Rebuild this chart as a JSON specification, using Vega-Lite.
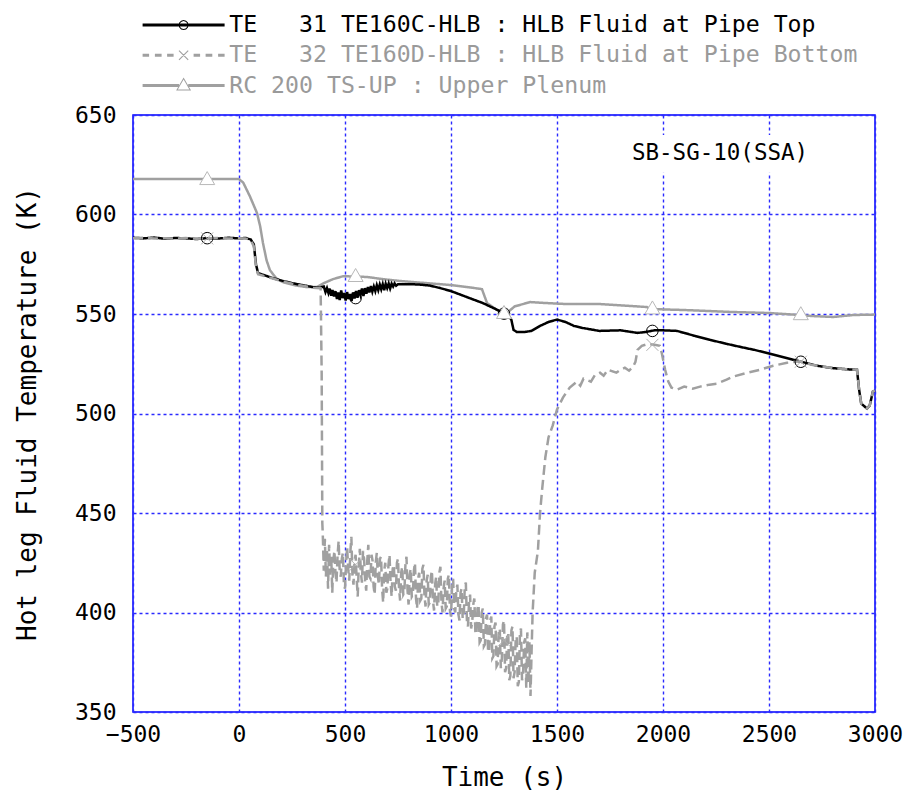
{
  "$schema": "https://vega.github.io/schema/vega-lite/v6.json",
  "width": 742,
  "height": 597,
  "autosize": {"type": "none"},
  "padding": {"left": 133, "top": 115, "right": 29, "bottom": 84},
  "background": "white",
  "config": {
    "font": "DejaVu Sans Mono",
    "view": {"stroke": "#0000ff", "strokeWidth": 1.5},
    "axis": {
      "grid": true, "gridColor": "#2a2aff", "gridDash": [3, 3], "gridWidth": 1.4, "gridOpacity": 1,
      "domain": false, "ticks": false, "labelFlush": false, "labelOverlap": false,
      "labelFont": "DejaVu Sans Mono", "labelFontSize": 23, "labelColor": "#000000",
      "titleFont": "DejaVu Sans Mono", "titleFontSize": 26, "titleFontWeight": "normal", "titleColor": "#000000"
    }
  },
  "datasets": {
    "lines": [
      {"s":"top","t":-500,"v":588.3},{"s":"top","t":-450,"v":588.0},{"s":"top","t":-400,"v":588.4},{"s":"top","t":-350,"v":587.8},{"s":"top","t":-300,"v":588.2},{"s":"top","t":-250,"v":588.0},{"s":"top","t":-200,"v":587.7},{"s":"top","t":-150,"v":588.1},{"s":"top","t":-100,"v":587.9},{"s":"top","t":-50,"v":588.3},{"s":"top","t":0,"v":588.0},{"s":"top","t":30,"v":588.2},{"s":"top","t":55,"v":587.5},{"s":"top","t":70,"v":585},{"s":"top","t":80,"v":575},{"s":"top","t":90,"v":570.5},{"s":"top","t":120,"v":569.5},{"s":"top","t":160,"v":568},{"s":"top","t":200,"v":566.8},{"s":"top","t":250,"v":565.5},{"s":"top","t":300,"v":564.5},{"s":"top","t":350,"v":563.5},{"s":"top","t":380,"v":563.2},
      {"s":"top","t":400,"v":563.8},{"s":"top","t":408,"v":561},{"s":"top","t":415,"v":563},{"s":"top","t":422,"v":560.5},{"s":"top","t":428,"v":562.8},{"s":"top","t":435,"v":559.2},{"s":"top","t":441,"v":562},{"s":"top","t":448,"v":558.8},{"s":"top","t":455,"v":561.5},{"s":"top","t":462,"v":557.5},{"s":"top","t":468,"v":560.8},{"s":"top","t":475,"v":557},{"s":"top","t":482,"v":561.8},{"s":"top","t":489,"v":558},{"s":"top","t":496,"v":560.5},{"s":"top","t":503,"v":556.8},{"s":"top","t":510,"v":561},{"s":"top","t":517,"v":557.5},{"s":"top","t":524,"v":560},{"s":"top","t":531,"v":556.5},{"s":"top","t":538,"v":560.8},{"s":"top","t":545,"v":557.8},{"s":"top","t":552,"v":561.5},{"s":"top","t":559,"v":558.2},{"s":"top","t":566,"v":562},{"s":"top","t":573,"v":559.5},{"s":"top","t":580,"v":562.8},{"s":"top","t":587,"v":559},{"s":"top","t":594,"v":563},{"s":"top","t":601,"v":560.2},{"s":"top","t":608,"v":563.5},{"s":"top","t":615,"v":560.8},{"s":"top","t":622,"v":564},{"s":"top","t":629,"v":561.2},{"s":"top","t":636,"v":563.8},{"s":"top","t":643,"v":561.5},{"s":"top","t":650,"v":564.5},{"s":"top","t":657,"v":562},{"s":"top","t":664,"v":564.8},{"s":"top","t":671,"v":562.4},{"s":"top","t":678,"v":565},{"s":"top","t":685,"v":562},{"s":"top","t":692,"v":565.2},{"s":"top","t":699,"v":563},{"s":"top","t":706,"v":565.3},{"s":"top","t":713,"v":562.8},{"s":"top","t":720,"v":565.2},{"s":"top","t":727,"v":563.8},{"s":"top","t":734,"v":565.4},{"s":"top","t":741,"v":564.2},{"s":"top","t":750,"v":565},
      {"s":"top","t":800,"v":565},{"s":"top","t":850,"v":564.8},{"s":"top","t":900,"v":564.3},{"s":"top","t":950,"v":563},{"s":"top","t":1000,"v":561.5},{"s":"top","t":1050,"v":559.5},{"s":"top","t":1100,"v":557.5},{"s":"top","t":1150,"v":555.5},{"s":"top","t":1200,"v":553},{"s":"top","t":1240,"v":551},{"s":"top","t":1270,"v":549.5},{"s":"top","t":1285,"v":547},{"s":"top","t":1295,"v":542},{"s":"top","t":1310,"v":541},{"s":"top","t":1350,"v":541},{"s":"top","t":1380,"v":541.5},{"s":"top","t":1420,"v":544},{"s":"top","t":1460,"v":546},{"s":"top","t":1500,"v":547.2},{"s":"top","t":1540,"v":546},{"s":"top","t":1580,"v":544},{"s":"top","t":1620,"v":543},{"s":"top","t":1700,"v":541.5},{"s":"top","t":1800,"v":541.8},{"s":"top","t":1880,"v":540.5},{"s":"top","t":1920,"v":541},{"s":"top","t":1960,"v":541.8},{"s":"top","t":2000,"v":541.8},{"s":"top","t":2066,"v":541.5},{"s":"top","t":2100,"v":540.5},{"s":"top","t":2150,"v":539},{"s":"top","t":2222,"v":537},{"s":"top","t":2300,"v":535},{"s":"top","t":2363,"v":533.5},{"s":"top","t":2430,"v":532},{"s":"top","t":2491,"v":530.4},{"s":"top","t":2550,"v":528.8},{"s":"top","t":2613,"v":527},{"s":"top","t":2660,"v":525.8},{"s":"top","t":2726,"v":524},{"s":"top","t":2800,"v":522.8},{"s":"top","t":2870,"v":522.2},{"s":"top","t":2915,"v":522},{"s":"top","t":2925,"v":512},{"s":"top","t":2935,"v":505},{"s":"top","t":2962,"v":502.5},{"s":"top","t":2975,"v":504},{"s":"top","t":2990,"v":511},{"s":"top","t":3000,"v":511.5},

      {"s":"bottom","t":-500,"v":588.1},{"s":"bottom","t":-450,"v":588.3},{"s":"bottom","t":-400,"v":587.9},{"s":"bottom","t":-350,"v":588.1},{"s":"bottom","t":-300,"v":587.9},{"s":"bottom","t":-250,"v":588.2},{"s":"bottom","t":-200,"v":587.8},{"s":"bottom","t":-150,"v":588},{"s":"bottom","t":-100,"v":588.2},{"s":"bottom","t":-50,"v":587.9},{"s":"bottom","t":0,"v":588.1},{"s":"bottom","t":30,"v":588},{"s":"bottom","t":55,"v":587.2},{"s":"bottom","t":70,"v":584},{"s":"bottom","t":80,"v":574},{"s":"bottom","t":90,"v":570},{"s":"bottom","t":120,"v":569},{"s":"bottom","t":160,"v":567.8},{"s":"bottom","t":200,"v":566.5},{"s":"bottom","t":250,"v":565.2},{"s":"bottom","t":300,"v":564.2},{"s":"bottom","t":350,"v":563.2},{"s":"bottom","t":385,"v":563},{"s":"bottom","t":390,"v":520},{"s":"bottom","t":393,"v":445},
      {"s":"bottom","t":395,"v":440},{"s":"bottom","t":400,"v":421},{"s":"bottom","t":405,"v":437},{"s":"bottom","t":410,"v":418},{"s":"bottom","t":415,"v":432},{"s":"bottom","t":420,"v":412},{"s":"bottom","t":425,"v":434},{"s":"bottom","t":430,"v":419},{"s":"bottom","t":435,"v":428},{"s":"bottom","t":440,"v":410},{"s":"bottom","t":445,"v":426},{"s":"bottom","t":450,"v":431},{"s":"bottom","t":455,"v":420},{"s":"bottom","t":460,"v":415},{"s":"bottom","t":465,"v":429},{"s":"bottom","t":470,"v":436},{"s":"bottom","t":475,"v":421},{"s":"bottom","t":480,"v":418},{"s":"bottom","t":485,"v":427},{"s":"bottom","t":490,"v":430},{"s":"bottom","t":495,"v":414},{"s":"bottom","t":500,"v":412},{"s":"bottom","t":505,"v":425},{"s":"bottom","t":510,"v":433},{"s":"bottom","t":515,"v":422},{"s":"bottom","t":520,"v":416},{"s":"bottom","t":525,"v":430},{"s":"bottom","t":530,"v":438},{"s":"bottom","t":535,"v":419},{"s":"bottom","t":540,"v":414},{"s":"bottom","t":545,"v":426},{"s":"bottom","t":550,"v":429},{"s":"bottom","t":555,"v":417},{"s":"bottom","t":560,"v":408},{"s":"bottom","t":565,"v":424},{"s":"bottom","t":570,"v":432},{"s":"bottom","t":575,"v":420},{"s":"bottom","t":580,"v":415},{"s":"bottom","t":585,"v":431},{"s":"bottom","t":590,"v":427},{"s":"bottom","t":595,"v":416},{"s":"bottom","t":600,"v":411},{"s":"bottom","t":605,"v":426},{"s":"bottom","t":610,"v":434},{"s":"bottom","t":615,"v":418},{"s":"bottom","t":620,"v":417},{"s":"bottom","t":625,"v":429},{"s":"bottom","t":630,"v":426},{"s":"bottom","t":635,"v":413},{"s":"bottom","t":640,"v":409},{"s":"bottom","t":645,"v":425},{"s":"bottom","t":650,"v":430},{"s":"bottom","t":655,"v":418},{"s":"bottom","t":660,"v":414},{"s":"bottom","t":665,"v":427},{"s":"bottom","t":670,"v":428},{"s":"bottom","t":675,"v":412},{"s":"bottom","t":680,"v":405},{"s":"bottom","t":685,"v":421},{"s":"bottom","t":690,"v":425},{"s":"bottom","t":695,"v":410},{"s":"bottom","t":700,"v":412},{"s":"bottom","t":705,"v":424},{"s":"bottom","t":710,"v":429},{"s":"bottom","t":715,"v":415},{"s":"bottom","t":720,"v":408},{"s":"bottom","t":725,"v":422},{"s":"bottom","t":730,"v":424},{"s":"bottom","t":735,"v":413},{"s":"bottom","t":740,"v":411},{"s":"bottom","t":745,"v":425},{"s":"bottom","t":750,"v":427},{"s":"bottom","t":755,"v":412},{"s":"bottom","t":760,"v":406},{"s":"bottom","t":765,"v":420},{"s":"bottom","t":770,"v":423},{"s":"bottom","t":775,"v":409},{"s":"bottom","t":780,"v":410},{"s":"bottom","t":785,"v":424},{"s":"bottom","t":790,"v":428},{"s":"bottom","t":795,"v":411},{"s":"bottom","t":800,"v":404},{"s":"bottom","t":805,"v":419},{"s":"bottom","t":810,"v":422},{"s":"bottom","t":815,"v":408},{"s":"bottom","t":820,"v":409},{"s":"bottom","t":825,"v":421},{"s":"bottom","t":830,"v":425},{"s":"bottom","t":835,"v":407},{"s":"bottom","t":840,"v":402},{"s":"bottom","t":845,"v":417},{"s":"bottom","t":850,"v":420},{"s":"bottom","t":855,"v":406},{"s":"bottom","t":860,"v":407},{"s":"bottom","t":865,"v":422},{"s":"bottom","t":870,"v":424},{"s":"bottom","t":875,"v":408},{"s":"bottom","t":880,"v":403},{"s":"bottom","t":885,"v":416},{"s":"bottom","t":890,"v":419},{"s":"bottom","t":895,"v":404},{"s":"bottom","t":900,"v":405},{"s":"bottom","t":905,"v":418},{"s":"bottom","t":910,"v":421},{"s":"bottom","t":915,"v":406},{"s":"bottom","t":920,"v":401},{"s":"bottom","t":925,"v":414},{"s":"bottom","t":930,"v":418},{"s":"bottom","t":935,"v":403},{"s":"bottom","t":940,"v":404},{"s":"bottom","t":945,"v":420},{"s":"bottom","t":950,"v":423},{"s":"bottom","t":955,"v":405},{"s":"bottom","t":960,"v":400},{"s":"bottom","t":965,"v":412},{"s":"bottom","t":970,"v":416},{"s":"bottom","t":975,"v":402},{"s":"bottom","t":980,"v":403},{"s":"bottom","t":985,"v":417},{"s":"bottom","t":990,"v":419},{"s":"bottom","t":995,"v":401},{"s":"bottom","t":1000,"v":398},{"s":"bottom","t":1005,"v":413},{"s":"bottom","t":1010,"v":417},{"s":"bottom","t":1015,"v":402},{"s":"bottom","t":1020,"v":400},{"s":"bottom","t":1025,"v":411},{"s":"bottom","t":1030,"v":414},{"s":"bottom","t":1035,"v":399},{"s":"bottom","t":1040,"v":396},{"s":"bottom","t":1045,"v":410},{"s":"bottom","t":1050,"v":412},{"s":"bottom","t":1055,"v":397},{"s":"bottom","t":1060,"v":398},{"s":"bottom","t":1065,"v":413},{"s":"bottom","t":1070,"v":415},{"s":"bottom","t":1075,"v":396},{"s":"bottom","t":1080,"v":393},{"s":"bottom","t":1085,"v":405},{"s":"bottom","t":1090,"v":409},{"s":"bottom","t":1095,"v":392},{"s":"bottom","t":1100,"v":395},{"s":"bottom","t":1105,"v":404},{"s":"bottom","t":1110,"v":407},{"s":"bottom","t":1115,"v":390},{"s":"bottom","t":1120,"v":389},{"s":"bottom","t":1125,"v":402},{"s":"bottom","t":1130,"v":404},{"s":"bottom","t":1135,"v":385},{"s":"bottom","t":1140,"v":386},{"s":"bottom","t":1145,"v":400},{"s":"bottom","t":1150,"v":402},{"s":"bottom","t":1155,"v":383},{"s":"bottom","t":1160,"v":384},{"s":"bottom","t":1165,"v":397},{"s":"bottom","t":1170,"v":399},{"s":"bottom","t":1175,"v":380},{"s":"bottom","t":1180,"v":381},{"s":"bottom","t":1185,"v":396},{"s":"bottom","t":1190,"v":398},{"s":"bottom","t":1195,"v":377},{"s":"bottom","t":1200,"v":378},{"s":"bottom","t":1205,"v":393},{"s":"bottom","t":1210,"v":395},{"s":"bottom","t":1215,"v":373},{"s":"bottom","t":1220,"v":374},{"s":"bottom","t":1225,"v":390},{"s":"bottom","t":1230,"v":392},{"s":"bottom","t":1235,"v":372},{"s":"bottom","t":1240,"v":377},{"s":"bottom","t":1245,"v":394},{"s":"bottom","t":1250,"v":396},{"s":"bottom","t":1255,"v":370},{"s":"bottom","t":1260,"v":372},{"s":"bottom","t":1265,"v":388},{"s":"bottom","t":1270,"v":390},{"s":"bottom","t":1275,"v":366},{"s":"bottom","t":1280,"v":368},{"s":"bottom","t":1285,"v":391},{"s":"bottom","t":1290,"v":393},{"s":"bottom","t":1295,"v":367},{"s":"bottom","t":1300,"v":370},{"s":"bottom","t":1305,"v":386},{"s":"bottom","t":1310,"v":388},{"s":"bottom","t":1315,"v":363},{"s":"bottom","t":1320,"v":365},{"s":"bottom","t":1325,"v":389},{"s":"bottom","t":1330,"v":392},{"s":"bottom","t":1335,"v":366},{"s":"bottom","t":1340,"v":369},{"s":"bottom","t":1345,"v":385},{"s":"bottom","t":1350,"v":387},{"s":"bottom","t":1355,"v":362},{"s":"bottom","t":1360,"v":390},{"s":"bottom","t":1365,"v":364},{"s":"bottom","t":1370,"v":385},{"s":"bottom","t":1375,"v":358},{"s":"bottom","t":1380,"v":380},
      {"s":"bottom","t":1385,"v":400},{"s":"bottom","t":1395,"v":420},{"s":"bottom","t":1410,"v":431},{"s":"bottom","t":1420,"v":450},{"s":"bottom","t":1430,"v":462},{"s":"bottom","t":1445,"v":478},{"s":"bottom","t":1460,"v":488},{"s":"bottom","t":1480,"v":494},{"s":"bottom","t":1500,"v":502},{"s":"bottom","t":1528,"v":508},{"s":"bottom","t":1560,"v":513},{"s":"bottom","t":1594,"v":516},{"s":"bottom","t":1610,"v":514},{"s":"bottom","t":1625,"v":517.5},{"s":"bottom","t":1660,"v":516},{"s":"bottom","t":1680,"v":519.5},{"s":"bottom","t":1703,"v":520.5},{"s":"bottom","t":1720,"v":519},{"s":"bottom","t":1740,"v":522},{"s":"bottom","t":1780,"v":520.5},{"s":"bottom","t":1800,"v":522},{"s":"bottom","t":1820,"v":523},{"s":"bottom","t":1840,"v":521.5},{"s":"bottom","t":1859,"v":523.5},{"s":"bottom","t":1870,"v":526},{"s":"bottom","t":1880,"v":532},{"s":"bottom","t":1900,"v":534},{"s":"bottom","t":1930,"v":535},{"s":"bottom","t":1960,"v":534.5},{"s":"bottom","t":1985,"v":534},{"s":"bottom","t":1995,"v":530},{"s":"bottom","t":2010,"v":522},{"s":"bottom","t":2025,"v":516},{"s":"bottom","t":2040,"v":513},{"s":"bottom","t":2066,"v":512},{"s":"bottom","t":2100,"v":513.5},{"s":"bottom","t":2140,"v":512.5},{"s":"bottom","t":2175,"v":513.5},{"s":"bottom","t":2220,"v":514.5},{"s":"bottom","t":2255,"v":515},{"s":"bottom","t":2300,"v":517},{"s":"bottom","t":2330,"v":518.5},{"s":"bottom","t":2400,"v":520.5},{"s":"bottom","t":2458,"v":522},{"s":"bottom","t":2520,"v":524},{"s":"bottom","t":2585,"v":525.5},{"s":"bottom","t":2646,"v":526.2},{"s":"bottom","t":2700,"v":524.5},{"s":"bottom","t":2760,"v":523.5},{"s":"bottom","t":2800,"v":522.8},{"s":"bottom","t":2870,"v":522.2},{"s":"bottom","t":2915,"v":522},{"s":"bottom","t":2925,"v":512},{"s":"bottom","t":2935,"v":505},{"s":"bottom","t":2962,"v":502.5},{"s":"bottom","t":2975,"v":504},{"s":"bottom","t":2990,"v":511},{"s":"bottom","t":3000,"v":511.5},

      {"s":"plenum","t":-500,"v":617.8},{"s":"plenum","t":0,"v":617.8},{"s":"plenum","t":20,"v":616},{"s":"plenum","t":52,"v":609},{"s":"plenum","t":85,"v":600.7},{"s":"plenum","t":100,"v":594},{"s":"plenum","t":113,"v":585.7},{"s":"plenum","t":130,"v":577},{"s":"plenum","t":146,"v":572},{"s":"plenum","t":175,"v":568},{"s":"plenum","t":208,"v":566},{"s":"plenum","t":260,"v":564.5},{"s":"plenum","t":320,"v":563.5},{"s":"plenum","t":368,"v":563.6},{"s":"plenum","t":400,"v":565.5},{"s":"plenum","t":443,"v":567.5},{"s":"plenum","t":491,"v":569},{"s":"plenum","t":550,"v":568.8},{"s":"plenum","t":604,"v":568.6},{"s":"plenum","t":680,"v":567.5},{"s":"plenum","t":759,"v":566.6},{"s":"plenum","t":850,"v":565.8},{"s":"plenum","t":995,"v":564.6},{"s":"plenum","t":1080,"v":563.5},{"s":"plenum","t":1146,"v":562.5},{"s":"plenum","t":1170,"v":555.5},{"s":"plenum","t":1231,"v":551},{"s":"plenum","t":1260,"v":550},{"s":"plenum","t":1280,"v":552},{"s":"plenum","t":1300,"v":553.8},{"s":"plenum","t":1373,"v":556},{"s":"plenum","t":1450,"v":555.5},{"s":"plenum","t":1547,"v":555},{"s":"plenum","t":1703,"v":555},{"s":"plenum","t":1850,"v":554},{"s":"plenum","t":1924,"v":553.5},{"s":"plenum","t":1939,"v":552.5},{"s":"plenum","t":2100,"v":552},{"s":"plenum","t":2330,"v":551},{"s":"plenum","t":2500,"v":550.5},{"s":"plenum","t":2646,"v":549.5},{"s":"plenum","t":2700,"v":549},{"s":"plenum","t":2802,"v":548.5},{"s":"plenum","t":2900,"v":549.5},{"s":"plenum","t":3000,"v":549.7}
    ],
    "markers": [
      {"s":"top","t":-150,"v":588.1},{"s":"top","t":550,"v":558},{"s":"top","t":1250,"v":550.2},{"s":"top","t":1950,"v":541.5},{"s":"top","t":2650,"v":526},
      {"s":"bottom","t":-150,"v":588},{"s":"bottom","t":550,"v":424},{"s":"bottom","t":1250,"v":386},{"s":"bottom","t":1950,"v":534.5},{"s":"bottom","t":2650,"v":526},
      {"s":"plenum","t":-150,"v":618.3},{"s":"plenum","t":550,"v":569.6},{"s":"plenum","t":1250,"v":551},{"s":"plenum","t":1950,"v":553.3},{"s":"plenum","t":2650,"v":550.4}
    ],
    "note": [
      {"t":1835,"t2":2700,"v":621,"v2":640,"label":"SB-SG-10(SSA)","tc":2269,"vc":630.9}
    ]
  },
  "encoding": {
    "x": {"field": "t", "type": "quantitative", "scale": {"domain": [-500, 3000], "nice": false, "zero": false},
      "axis": {"values": [-500, 0, 500, 1000, 1500, 2000, 2500, 3000], "format": "d", "title": "Time (s)", "labelPadding": 11, "titlePadding": 18,
        "grid": true, "gridColor": "#2a2aff", "gridDash": [3, 3], "gridWidth": 1.4}},
    "y": {"field": "v", "type": "quantitative", "scale": {"domain": [350, 650], "nice": false, "zero": false},
      "axis": {"values": [350, 400, 450, 500, 550, 600, 650], "title": "Hot leg Fluid Temperature (K)", "labelPadding": 17, "titlePadding": 34,
        "grid": true, "gridColor": "#2a2aff", "gridDash": [3, 3], "gridWidth": 1.4}}
  },
  "layer": [
    {
      "data": {"name": "note"},
      "mark": {"type": "rect", "fill": "white"},
      "encoding": {"x2": {"field": "t2"}, "y2": {"field": "v2"}}
    },
    {
      "data": {"name": "note"},
      "mark": {"type": "text", "font": "DejaVu Sans Mono", "fontSize": 22.5, "align": "center", "baseline": "middle", "color": "#000000"},
      "encoding": {
        "x": {"field": "tc", "type": "quantitative"},
        "y": {"field": "vc", "type": "quantitative"},
        "text": {"field": "label"}
      }
    },
    {
      "data": {"name": "lines"},
      "encoding": {
        "color": {"field": "s", "type": "nominal",
          "scale": {"domain": ["top", "bottom", "plenum"], "range": ["#000000", "#a0a0a0", "#a0a0a0"]},
          "legend": {
            "orient": "none", "legendX": 6, "legendY": -101.5, "direction": "vertical", "title": null, "padding": 0,
            "symbolSize": 400, "labelOffset": 67, "rowPadding": 6.2,
            "labelFont": "DejaVu Sans Mono", "labelFontSize": 23.2, "labelLimit": 2000, "labelBaseline": "middle",
            "symbolStrokeWidth": 0,
            "labelExpr": "datum.value === 'top' ? 'TE\u00a0\u00a0\u00a031 TE160C-HLB : HLB Fluid at Pipe Top' : datum.value === 'bottom' ? 'TE\u00a0\u00a0\u00a032 TE160D-HLB : HLB Fluid at Pipe Bottom' : 'RC 200 TS-UP : Upper Plenum'",
            "encode": {
              "symbols": {"update": {
                "shape": {"signal": "datum.value === 'top' ? 'M-0.8,-0.15H7.4V0.15H-0.8Z M3.8,0L3.733,0.25L3.55,0.433L3.3,0.5L3.05,0.433L2.867,0.25L2.8,0L2.867,-0.25L3.05,-0.433L3.3,-0.5L3.55,-0.433L3.733,-0.25Z M3.7,0L3.646,-0.2L3.5,-0.346L3.3,-0.4L3.1,-0.346L2.954,-0.2L2.9,0L2.954,0.2L3.1,0.346L3.3,0.4L3.5,0.346L3.646,0.2Z' : datum.value === 'bottom' ? 'M-0.8,-0.15H-0.15V0.15H-0.8Z M0.43,-0.15H1.1V0.15H0.43Z M1.65,-0.15H2.3V0.15H1.65Z M4.3,-0.15H4.95V0.15H4.3Z M5.5,-0.15H6.17V0.15H5.5Z M6.75,-0.15H7.4V0.15H6.75Z M2.8,-0.42L2.88,-0.5L3.8,0.42L3.72,0.5Z M2.8,0.42L3.72,-0.5L3.8,-0.42L2.88,0.5Z' : 'M-0.8,-0.15H2.84V0.15H-0.8Z M3.76,-0.15H7.4V0.15H3.76Z M3.3,-0.8L4.05,0.5L2.55,0.5Z M3.3,-0.6L2.723,0.4L3.877,0.4Z'"},
                "fill": {"signal": "datum.value === 'top' ? '#000000' : '#a0a0a0'"},
                "stroke": {"value": "transparent"},
                "strokeWidth": {"value": 0},
                "opacity": {"value": 1}
              }},
              "labels": {"update": {"fill": {"signal": "datum.value === 'top' ? '#000000' : '#9a9a9a'"}}}
            }
          }
        },
        "strokeDash": {"field": "s", "type": "nominal",
          "scale": {"domain": ["top", "bottom", "plenum"], "range": [[1, 0], [10, 5], [1, 0]]},
          "legend": null}
      },
      "layer": [
        {"transform": [{"filter": "datum.s === 'plenum'"}], "mark": {"type": "line", "strokeWidth": 2.5}},
        {"transform": [{"filter": "datum.s === 'top'"}], "mark": {"type": "line", "strokeWidth": 2.5}},
        {"transform": [{"filter": "datum.s === 'bottom'"}], "mark": {"type": "line", "strokeWidth": 2.5}}
      ]
    },
    {
      "data": {"name": "markers"},
      "transform": [{"filter": "datum.s === 'top'"}],
      "mark": {"type": "point", "shape": "circle", "filled": false, "stroke": "#000000", "strokeWidth": 1, "size": 133, "opacity": 1}
    },
    {
      "data": {"name": "markers"},
      "transform": [{"filter": "datum.s === 'bottom'"}],
      "mark": {"type": "point", "shape": "M-1,-1L1,1M-1,1L1,-1", "filled": false, "stroke": "#b0b0b0", "strokeWidth": 1, "size": 144, "opacity": 1}
    },
    {
      "data": {"name": "markers"},
      "transform": [{"filter": "datum.s === 'plenum'"}],
      "mark": {"type": "point", "shape": "triangle-up", "filled": true, "fill": "#ffffff", "stroke": "#b8b8b8", "strokeWidth": 1, "size": 225, "opacity": 1}
    }
  ]
}
